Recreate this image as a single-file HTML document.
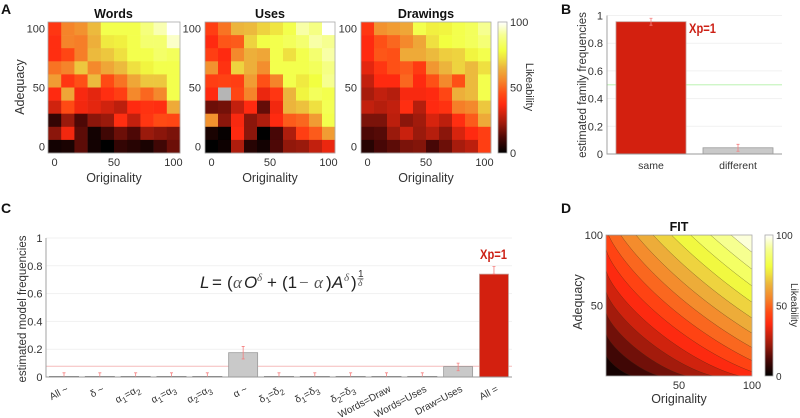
<!DOCTYPE html>
<html lang="en">
<head>
<meta charset="utf-8">
<title>Likeability figure</title>
<style>
html,body{margin:0;padding:0;background:#fff;width:800px;height:418px;overflow:hidden}
svg{display:block}
text{font-family:"Liberation Sans",sans-serif;fill:#333}
.tick{font-size:11px}
.axt{font-size:12.5px}
.ttl{font-size:12.5px;font-weight:bold;fill:#111;text-anchor:middle}
.pl{font-size:14px;font-weight:bold;fill:#111}
.xp{font-size:13.5px;font-weight:bold;fill:#cc2015}
.eq{font-size:17px;fill:#222}
.eqs{font-family:"Liberation Serif",serif;fill:#555}
</style>
</head>
<body>
<svg id="fig" xmlns="http://www.w3.org/2000/svg" width="800" height="418" viewBox="0 0 800 418">
  <defs>
    <linearGradient id="cbar" x1="0" y1="1" x2="0" y2="0"></linearGradient>
    <clipPath id="fit-clip"><rect x="606" y="235" width="146" height="141"/></clipPath>
  </defs>

  <text class="pl" x="1" y="14">A</text>
  <text class="pl" x="561" y="14">B</text>
  <text class="pl" x="1" y="213">C</text>
  <text class="pl" x="561" y="213">D</text>

  <text class="ttl" x="113.5" y="18">Words</text>
  <text class="ttl" x="270" y="18">Uses</text>
  <text class="ttl" x="426" y="18">Drawings</text>
  <text class="ttl" x="679" y="231">FIT</text>

  <text class="axt" text-anchor="middle" transform="translate(24,87) rotate(-90)">Adequacy</text>
  <text class="axt" text-anchor="middle" x="114" y="182">Originality</text>
  <text class="axt" text-anchor="middle" x="270" y="182">Originality</text>
  <text class="axt" text-anchor="middle" x="426" y="182">Originality</text>
  <text font-size="11" text-anchor="middle" transform="translate(526,87) rotate(90)">Likeability</text>

  <text font-size="11.5" text-anchor="middle" transform="translate(586,85) rotate(-90)">estimated family frequencies</text>
  <text class="xp" x="689" y="33" textLength="27" lengthAdjust="spacingAndGlyphs">Xp=1</text>

  <text font-size="11.5" text-anchor="middle" transform="translate(26,309) rotate(-90)">estimated model frequencies</text>
  <text class="xp" x="480" y="259" textLength="27" lengthAdjust="spacingAndGlyphs">Xp=1</text>

  <g>
    <text class="eq" x="200" y="288" font-style="italic">L</text>
    <text class="eq" x="212" y="288">=</text>
    <text class="eq" x="227" y="288">(</text>
    <text class="eq eqs" x="233" y="288" font-style="italic">α</text>
    <text class="eq" x="244" y="288" font-style="italic">O</text>
    <text class="eqs" x="257" y="281" font-size="11" font-style="italic">δ</text>
    <text class="eq" x="267" y="288">+</text>
    <text class="eq" x="282" y="288">(1</text>
    <text class="eq eqs" x="299" y="288">−</text>
    <text class="eq eqs" x="314" y="288" font-style="italic">α</text>
    <text class="eq" x="326" y="288">)</text>
    <text class="eq" x="332" y="288" font-style="italic">A</text>
    <text class="eqs" x="344" y="281" font-size="11" font-style="italic">δ</text>
    <text class="eq" x="351" y="288">)</text>
    <text x="358" y="277" font-size="10" fill="#222">1</text>
    <rect x="357.500" y="278.500" width="6" height="0.7" fill="#333"/>
    <text class="eqs" x="358" y="286" font-size="9.500" font-style="italic">δ</text>
  </g>

  <text class="axt" text-anchor="middle" transform="translate(582,302) rotate(-90)">Adequacy</text>
  <text class="axt" text-anchor="middle" x="679" y="403">Originality</text>
  <text font-size="10" text-anchor="middle" transform="translate(791,305) rotate(90)">Likeability</text>
</svg>

<script>
// ---- colour scale ----
const cmapValues = [0, 12, 22, 37, 45, 55, 65, 72, 78, 90, 100];
const cmapColors = ['#000000', '#4d0806', '#9a1a0c', '#ff2a10', '#ff4a14', '#f5842a', '#ecb43c', '#efe040', '#f2ff40', '#f6ff90', '#ffffff'];

// ---- heatmaps, rows listed from adequacy 100 (top) to adequacy 0 (bottom) ----
const wordsValues = [
  [40, 55, 58, 66, 80, 80, 80, 87, 93, 100],
  [38, 55, 54, 64, 74, 75, 80, 85, 85, 95],
  [38, 44, 54, 66, 68, 72, 80, 80, 84, 82],
  [52, 55, 68, 56, 62, 66, 72, 76, 80, 80],
  [60, 40, 46, 66, 45, 52, 62, 68, 68, 80],
  [37, 62, 36, 33, 38, 42, 56, 50, 56, 80],
  [30, 45, 35, 33, 30, 27, 37, 39, 38, 63],
  [8, 22, 12, 20, 22, 38, 28, 40, 45, 44],
  [20, 35, 14, 3, 10, 16, 12, 22, 20, 18],
  [3, 4, 14, 3, 0, 8, 6, 4, 10, 16]
];
const usesValues = [
  [42, 52, 65, 66, 70, 73, 80, 92, 88, 100],
  [37, 47, 48, 70, 79, 80, 82, 85, 92, 90],
  [42, 37, 56, 64, 62, 80, 72, 80, 85, 92],
  [58, 39, 70, 64, 57, 80, 80, 80, 82, 88],
  [42, 43, 42, 60, 46, 55, 80, 74, 78, 90],
  [37, null, 44, 55, 34, 40, 65, 76, 82, 80],
  [16, 17, 28, 37, 15, 35, 65, 67, 72, 81],
  [58, 20, 36, 20, 25, 37, 48, 50, 60, 80],
  [4, 1, 37, 20, 0, 11, 25, 42, 48, 60],
  [0, 2, 25, 6, 3, 12, 21, 22, 28, 34]
];
const drawingsValues = [
  [40, 58, 60, 62, 80, 75, 76, 80, 82, 90],
  [37, 46, 50, 56, 62, 72, 78, 80, 82, 86],
  [37, 47, 46, 63, 63, 66, 69, 70, 76, 80],
  [33, 40, 46, 48, 41, 59, 65, 70, 66, 72],
  [28, 37, 37, 50, 37, 46, 56, 46, 66, 80],
  [24, 28, 26, 36, 36, 37, 44, 64, 66, 80],
  [28, 26, 28, 38, 26, 37, 39, 54, 56, 68],
  [18, 18, 27, 20, 23, 31, 27, 38, 48, 63],
  [12, 13, 22, 29, 22, 26, 20, 31, 37, 42],
  [6, 11, 14, 18, 19, 11, 16, 24, 27, 42]
];
const heatTicks = [0, 50, 100];
const colorbarTicks = [0, 50, 100];

// ---- panel B ----
const familyCategories = ['same', 'different'];
const familyValues = [0.955, 0.045];
const familyErrLow = [0.93, 0.02];
const familyErrHigh = [0.98, 0.07];
const familyChance = 0.5;
const freqTicks = [0, 0.2, 0.4, 0.6, 0.8, 1];

// ---- panel C ----
const modelCategories = ['All ~', 'δ ~', 'α_1=α_2', 'α_1=α_3', 'α_2=α_3', 'α ~', 'δ_1=δ_2', 'δ_1=δ_3', 'δ_2=δ_3', 'Words=Draw', 'Words=Uses', 'Draw=Uses', 'All ='];
const modelValues = [0.003, 0.003, 0.003, 0.003, 0.003, 0.175, 0.003, 0.003, 0.003, 0.003, 0.003, 0.075, 0.74];
const modelErrLow = [0, 0, 0, 0, 0, 0.13, 0, 0, 0, 0, 0, 0.045, 0.74];
const modelErrHigh = [0.03, 0.03, 0.03, 0.03, 0.03, 0.22, 0.03, 0.03, 0.03, 0.03, 0.03, 0.1, 0.795];
const modelChance = 0.077;
const modelWinner = 12;
const familyWinner = 0;

// ---- panel D: fitted surface L = (aO^d + (1-a)A^d)^(1/d), filled at these levels ----
const fitAlpha = 0.46;
const fitDelta = 0.76;
const fitLevels = [0, 6.67, 13.33, 20, 26.67, 33.33, 40, 46.67, 53.33, 60, 66.67, 73.33, 80, 86.67, 93.33, 100];
const fitXTicks = [50, 100];
const fitYTicks = [50, 100];

const NS = 'http://www.w3.org/2000/svg';
const svg = document.getElementById('fig');
function el(tag, attrs, parent) {
  const n = document.createElementNS(NS, tag);
  for (const k in attrs) n.setAttribute(k, attrs[k]);
  (parent || svg).appendChild(n);
  return n;
}
function hexRgb(h) {
  return [parseInt(h.slice(1, 3), 16), parseInt(h.slice(3, 5), 16), parseInt(h.slice(5, 7), 16)];
}
function colorOf(v) {
  const c = Math.max(0, Math.min(100, v));
  for (let i = 1; i < cmapValues.length; i++) {
    if (c <= cmapValues[i]) {
      const t = (c - cmapValues[i - 1]) / (cmapValues[i] - cmapValues[i - 1]);
      const a = hexRgb(cmapColors[i - 1]);
      const b = hexRgb(cmapColors[i]);
      return 'rgb(' + a.map((x, j) => Math.round(x + (b[j] - x) * t)).join(',') + ')';
    }
  }
  return cmapColors[cmapColors.length - 1];
}
function linear(d0, d1, r0, r1) {
  return function (v) { return r0 + (v - d0) / (d1 - d0) * (r1 - r0); };
}

// colorbar gradient
const grad = document.getElementById('cbar');
cmapValues.forEach(function (v, i) {
  el('stop', { offset: (v / 100), 'stop-color': cmapColors[i] }, grad);
});

// ---- heatmaps ----
function heatmap(name, values, x0, x1, labelRight) {
  const y0 = 22, y1 = 153;
  const g = el('g', {});
  
  
  const rows = values.length, cols = values[0].length;
  const cw = (x1 - x0) / cols, ch = (y1 - y0) / rows;
  values.forEach(function (row, r) {
    row.forEach(function (v, c) {
      const cell = el('rect', {
        x: x0 + c * cw, y: y0 + r * ch, width: cw + 0.3, height: ch + 0.3,
        fill: v === null ? '#b5b5b5' : colorOf(v)
      }, g);
      
      
    });
  });
  const frame = el('rect', { x: x0, y: y0, width: x1 - x0, height: y1 - y0, fill: 'none', stroke: '#aaa', 'stroke-width': 0.8 }, g);
  
  
  const sx = linear(0, 100, x0 + cw / 2, x1 - cw / 2);
  const sy = linear(0, 100, y1 - ch / 2, y0 + ch / 2);
  heatTicks.forEach(function (t) {
    const xl = el('text', { class: 'tick', x: sx(t), y: 166, 'text-anchor': 'middle', 'font-size': 11 }, g);
    xl.textContent = t;
    
    
    const yl = el('text', { class: 'tick', x: labelRight, y: sy(t) + 4, 'text-anchor': 'end' }, g);
    yl.textContent = t;
    
    
  });
}
heatmap('words', wordsValues, 48, 180, 45);
heatmap('uses', usesValues, 205, 335, 201);
heatmap('drawings', drawingsValues, 361, 491, 357);

// ---- colorbars ----
function colorbar(name, x, w, y0, y1, labelX, fontSize) {
  const bar = el('rect', { x: x, y: y0, width: w, height: y1 - y0, fill: 'url(#cbar)', stroke: '#aaa', 'stroke-width': 0.8 });
  
  
  const s = linear(0, 100, y1, y0);
  colorbarTicks.forEach(function (t) {
    const l = el('text', { x: labelX, y: s(t) + 4, 'font-size': fontSize });
    l.textContent = t;
    
    
  });
}
colorbar('heatmap-colorbar', 498, 9, 22, 153, 510, 11);
colorbar('fit-colorbar', 765, 8, 235, 376, 776, 10);

// ---- bar chart helper ----
function barAxes(name, x0, x1, y0, y1, labelRight, fontSize) {
  const sy = linear(0, 1, y0, y1);
  freqTicks.forEach(function (t) {
    if (t > 0) {
      const gl = el('line', { x1: x0, x2: x1, y1: sy(t), y2: sy(t), stroke: '#f1f1f1', 'stroke-width': 1 });
      
      
    }
    const l = el('text', { x: labelRight, y: sy(t) + 4, 'text-anchor': 'end', 'font-size': fontSize });
    l.textContent = t;
    
    
  });
  return sy;
}
function drawBar(name, cx, w, v, low, high, sy, winner) {
  const top = sy(v), base = sy(0);
  const small = v < 0.01;
  const b = el('rect', {
    x: cx - w / 2, y: top, width: w, height: base - top,
    fill: winner ? '#d3200f' : '#c9c9c9', stroke: winner ? '#c49a94' : (small ? '#666' : '#9a9a9a'), 'stroke-width': small ? 1 : 0.8
  });
  
  
  const eb = el('path', {
    d: 'M' + (cx - 1.5) + ' ' + sy(high) + 'H' + (cx + 1.5) + 'M' + cx + ' ' + sy(high) + 'V' + sy(low) + 'M' + (cx - 1.5) + ' ' + sy(low) + 'H' + (cx + 1.5),
    stroke: '#f58080', 'stroke-width': 0.8, fill: 'none'
  });
  
  
}
function axisLines(name, x0, x1, y0, y1) {
  const a = el('path', { d: 'M' + x0 + ' ' + y1 + 'V' + y0 + 'H' + x1, stroke: '#999', 'stroke-width': 0.9, fill: 'none' });
  
  
}

// ---- panel B ----
(function () {
  const x0 = 607, x1 = 782, y0 = 154, y1 = 15.5;
  const sy = barAxes('family', x0, x1, y0, y1, 603, 11);
  const ch = el('line', { x1: x0, x2: x1, y1: sy(familyChance), y2: sy(familyChance), stroke: '#c9f5c0', 'stroke-width': 1.2 });
  
  
  const step = 87;
  familyCategories.forEach(function (c, i) {
    const cx = 651 + i * step;
    drawBar('family-' + c, cx, 70, familyValues[i], familyErrLow[i], familyErrHigh[i], sy, i === familyWinner);
    const l = el('text', { x: cx, y: 169, 'text-anchor': 'middle', 'font-size': 10.5 });
    l.textContent = c;
    
    
  });
  axisLines('family', x0, x1, y0, y1);
})();

// ---- panel C ----
(function () {
  const x0 = 46, x1 = 512, y0 = 377, y1 = 238;
  const sy = barAxes('model', x0, x1, y0, y1, 42.5, 11);
  const ch = el('line', { x1: x0, x2: x1, y1: sy(modelChance), y2: sy(modelChance), stroke: '#f6bcbc', 'stroke-width': 1 });
  
  
  const step = 35.83;
  modelCategories.forEach(function (c, i) {
    const cx = 64 + i * step;
    drawBar('model', cx, 29, modelValues[i], modelErrLow[i], modelErrHigh[i], sy, i === modelWinner);
    const t = el('text', {
      'text-anchor': 'end', 'font-size': 10, fill: '#444',
      transform: 'translate(' + (cx + 5) + ',391) rotate(-28)'
    });
    
    
    c.split(/(_\d)/).forEach(function (part) {
      if (!part) return;
      if (part[0] === '_') {
        const a = el('tspan', { dy: 3, 'font-size': 8 }, t);
        a.textContent = part[1];
        const back = el('tspan', { dy: -3 }, t);
        back.textContent = '\u200b';
      } else {
        const a = el('tspan', {}, t);
        a.textContent = part;
      }
    });
  });
  axisLines('model', x0, x1, y0, y1);
})();

// ---- panel D ----
(function () {
  const sx = linear(0, 100, 606, 752);
  const sy = linear(0, 100, 376, 235);
  const g = el('g', { 'clip-path': 'url(#fit-clip)' });
  
  
  function curve(level) {
    const pts = [];
    for (let o = 0; o <= 100; o += 1) {
      const num = Math.pow(level, fitDelta) - fitAlpha * Math.pow(o, fitDelta);
      let a = num <= 0 ? 0 : Math.pow(num / (1 - fitAlpha), 1 / fitDelta);
      a = Math.min(100, a);
      pts.push(sx(o).toFixed(2) + ',' + sy(a).toFixed(2));
    }
    return pts;
  }
  for (let i = 0; i < fitLevels.length - 1; i++) {
    const mid = (fitLevels[i] + fitLevels[i + 1]) / 2;
    const color = colorOf(mid);
    if (i === 0) {
      const base = el('rect', { x: sx(0), y: sy(100), width: sx(100) - sx(0), height: sy(0) - sy(100), fill: color }, g);
      
      
    } else {
      const pts = curve(fitLevels[i]);
      const band = el('polygon', { points: sx(100) + ',' + sy(100) + ' ' + sx(0) + ',' + sy(100) + ' ' + pts.join(' '), fill: color }, g);
      
      
      const line = el('polyline', { points: pts.join(' '), fill: 'none', stroke: 'rgba(50,40,20,0.55)', 'stroke-width': 0.5 }, g);
      
      
    }
  }
  const frame = el('rect', { x: sx(0), y: sy(100), width: sx(100) - sx(0), height: sy(0) - sy(100), fill: 'none', stroke: '#aaa', 'stroke-width': 0.8 });
  
  
  fitXTicks.forEach(function (t) {
    const l = el('text', { class: 'tick', x: sx(t), y: 389, 'text-anchor': 'middle' });
    l.textContent = t;
    
    
  });
  fitYTicks.forEach(function (t) {
    const l = el('text', { class: 'tick', x: 603, y: sy(t) + 4, 'text-anchor': 'end' });
    l.textContent = t;
    
    
  });
})();
</script>
</body>
</html>
